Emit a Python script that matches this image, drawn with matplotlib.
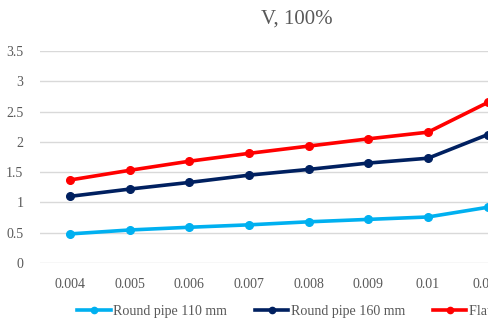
import matplotlib
matplotlib.use("Agg")
import matplotlib.pyplot as plt
from matplotlib.lines import Line2D

categories = ["0.004", "0.005", "0.006", "0.007", "0.008", "0.009", "0.01", "0.011"]
round110 = [0.48, 0.545, 0.59, 0.63, 0.68, 0.72, 0.76, 0.92]
round160 = [1.10, 1.22, 1.33, 1.45, 1.545, 1.65, 1.73, 2.12]
flat = [1.37, 1.53, 1.68, 1.81, 1.93, 2.05, 2.16, 2.65]
series_names = ["Round pipe 110 mm", "Round pipe 160 mm", "Flat pipe"]
colors = ["#00B0F0", "#002060", "#FF0000"]

plt.rcParams['font.family'] = ['Liberation Serif', 'DejaVu Serif']

W, H = 489, 321
fig = plt.figure(figsize=(W / 100, H / 100), dpi=100)
left, bottom, top = 40 / W, 58 / H, 270 / H
width = 8 * 59.7 / W
ax = fig.add_axes([left, bottom, width, top - bottom])

x = list(range(len(categories)))
for vals, c, name in zip([round110, round160, flat], colors, series_names):
    ax.plot(x, vals, color=c, lw=2.6, marker='o', ms=5.5, label=name, zorder=3)

ax.set_xlim(-0.5, len(categories) - 0.5)
ax.set_ylim(0, 3.5)
ax.set_yticks([0, 0.5, 1, 1.5, 2, 2.5, 3, 3.5])
ax.set_yticklabels(["0", "0.5", "1", "1.5", "2", "2.5", "3", "3.5"])
ax.set_xticks(x)
ax.set_xticklabels(categories)
ax.grid(axis='y', color='#D9D9D9', lw=1)
ax.set_axisbelow(True)
for s in ax.spines.values():
    s.set_visible(False)
ax.tick_params(axis='both', length=0, labelsize=10, labelcolor='#595959')
ax.tick_params(axis='y', pad=12)
ax.tick_params(axis='x', pad=11)

fig.text(297 / W, 1 - 19 / H, "V, 100%", ha='center', va='center', fontsize=15, color='#595959')

handles = [Line2D([0], [0], color=c, lw=2.6, marker='o', ms=4.5) for c in colors]
fig.legend(handles, series_names, loc='center left', bbox_to_anchor=(77 / W, 1 - 311 / H),
           ncol=3, frameon=False, fontsize=10.1, handlelength=2.4, handletextpad=0.2,
           columnspacing=1.95, labelcolor='#595959', borderaxespad=0, borderpad=0)

fig.savefig("out.png", dpi=100)
